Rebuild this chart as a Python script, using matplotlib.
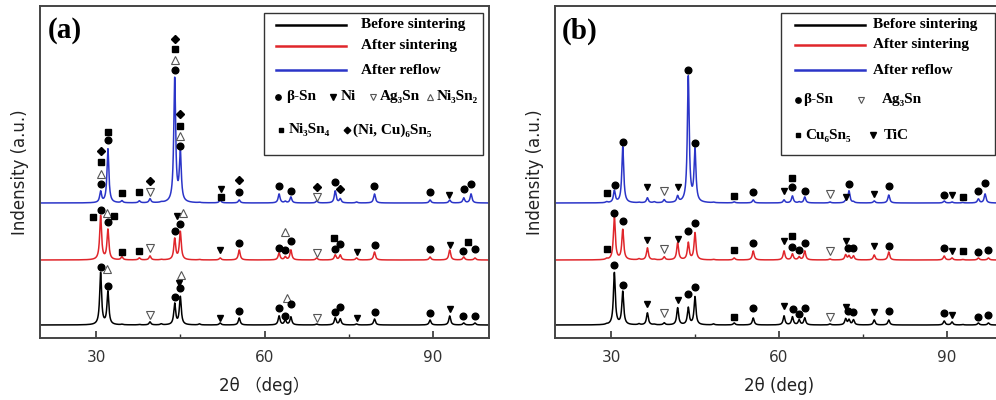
import numpy as np
import matplotlib
matplotlib.use('Agg')
import matplotlib.pyplot as plt

# ---- peak lists (2theta, height) ----
pos_a = [30.8, 32.1, 34.6, 37.7, 39.6, 41.6, 44.0, 45.0, 48.4, 52.1, 55.5, 62.6, 63.7, 64.7,
         69.3, 72.6, 73.5, 76.4, 79.6, 89.5, 93.0, 95.5, 96.8, 97.5]
blue_a = [11, 54, 2, 2, 4, 0.5, 124, 50, 0.5, 3, 3, 9, 1.5, 6,
          2, 12, 4, 1, 9, 3, 3, 5, 9, 0]
red_a = [44, 30, 3, 2, 4, 0.5, 21, 28, 0.5, 2, 10, 7, 3, 10,
         2, 5, 5, 2, 8, 3, 10, 3, 0, 2]
black_a = [52, 33, 0.5, 0.5, 3, 1, 21, 28, 1, 2, 7, 9, 5, 8,
           1, 7, 6, 1, 6, 5, 9, 2, 0, 2]

pos_b = [29.2, 30.6, 32.1, 35.0, 36.5, 37.7, 39.5, 41.9, 43.8, 45.0, 48.3, 52.0, 55.4, 60.9,
         62.4, 63.6, 64.6, 69.1, 71.9, 72.5, 73.3, 77.0, 79.6, 89.5, 90.9, 92.8, 95.6, 96.8, 97.4]
blue_b = [1, 12, 56, 0.5, 5, 1, 3, 6, 126, 52, 0.5, 1, 3, 3,
          7, 1, 6, 1, 2, 12, 1, 2, 8, 2, 1, 0.5, 4, 9, 0]
red_b = [1, 44, 30, 1, 12, 0.5, 3, 17, 17, 27, 0.5, 2, 9, 9,
         6, 3, 9, 1, 5, 4, 4, 5, 8, 4, 2, 0.5, 2, 0, 2]
black_b = [0.5, 52, 33, 1, 12, 0.5, 2, 17, 17, 28, 1, 2, 7, 9,
           8, 5, 7, 1, 6, 5, 5, 5, 5, 4, 3, 0.5, 2, 0, 2]

offsets = {'black': 13, 'red': 78, 'blue': 135}

# ---- phase markers: (2theta, phase, height above the curve baseline) ----
mk_blue_a = [(30.8, 'Sn', 19), (30.8, 'Ni3Sn2', 29), (30.8, 'Ni3Sn4', 41), (30.8, 'NiCu', 52),
             (32.1, 'Sn', 63), (32.1, 'Ni3Sn4', 71), (34.6, 'Ni3Sn4', 10), (37.7, 'Ni3Sn4', 11),
             (39.6, 'Ag3Sn', 11), (39.6, 'NiCu', 22),
             (44.0, 'Sn', 133), (44.0, 'Ni3Sn2', 143), (44.0, 'Ni3Sn4', 154), (44.0, 'NiCu', 164),
             (45.0, 'Sn', 57), (45.0, 'Ni3Sn2', 67), (45.0, 'Ni3Sn4', 77), (45.0, 'NiCu', 89),
             (52.3, 'Ni3Sn4', 6), (52.3, 'Ni', 14), (55.5, 'Sn', 11), (55.5, 'NiCu', 23),
             (62.6, 'Sn', 17), (64.7, 'Sn', 12), (69.3, 'Ag3Sn', 6), (69.3, 'NiCu', 16),
             (72.6, 'Sn', 21), (73.5, 'NiCu', 14), (79.5, 'Sn', 17), (89.5, 'Sn', 11),
             (92.9, 'Ni', 8), (95.6, 'Sn', 14), (96.8, 'Sn', 19)]
mk_red_a = [(29.5, 'Ni3Sn4', 43), (30.8, 'Sn', 50), (32.0, 'Ni3Sn2', 47), (33.1, 'Ni3Sn4', 44),
            (32.2, 'Sn', 38), (34.6, 'Ni3Sn4', 8), (37.7, 'Ni3Sn4', 9), (39.6, 'Ag3Sn', 12),
            (44.0, 'Sn', 29), (45.0, 'Sn', 36), (44.4, 'Ni', 44), (45.4, 'Ni3Sn2', 47),
            (52.0, 'Ni', 10), (55.5, 'Sn', 17), (62.6, 'Sn', 12), (63.7, 'Sn', 10),
            (63.7, 'Ni3Sn2', 28), (64.7, 'Sn', 19), (69.4, 'Ag3Sn', 7), (72.6, 'Sn', 11),
            (72.3, 'Ni3Sn4', 22), (73.5, 'Sn', 16), (76.4, 'Ni', 8), (79.6, 'Sn', 15),
            (89.5, 'Sn', 11), (93.0, 'Ni', 15), (95.4, 'Sn', 9), (96.3, 'Ni3Sn4', 18),
            (97.5, 'Sn', 11)]
mk_black_a = [(30.8, 'Sn', 58), (32.0, 'Ni3Sn2', 56), (32.2, 'Sn', 39), (39.6, 'Ag3Sn', 10),
              (44.0, 'Sn', 28), (45.0, 'Sn', 37), (44.7, 'Ni', 42), (45.1, 'Ni3Sn2', 50),
              (52.0, 'Ni', 7), (55.5, 'Sn', 14), (62.6, 'Sn', 17), (63.7, 'Sn', 9),
              (64.0, 'Ni3Sn2', 27), (64.7, 'Sn', 21), (69.4, 'Ag3Sn', 7), (72.6, 'Sn', 13),
              (73.5, 'Sn', 18), (76.4, 'Ni', 7), (79.6, 'Sn', 13), (89.5, 'Sn', 12),
              (93.0, 'Ni', 16), (95.4, 'Sn', 9), (97.5, 'Sn', 9)]

mk_blue_b = [(29.3, 'Cu6Sn5', 10), (30.7, 'Sn', 18), (32.1, 'Sn', 61), (36.5, 'TiC', 16),
             (39.5, 'Ag3Sn', 12), (41.9, 'TiC', 16), (43.8, 'Sn', 133), (45.0, 'Sn', 60),
             (52.0, 'Cu6Sn5', 7), (55.4, 'Sn', 11), (60.9, 'TiC', 12), (62.4, 'Sn', 16),
             (62.4, 'Cu6Sn5', 25), (64.6, 'Sn', 12), (69.1, 'Ag3Sn', 9), (71.9, 'TiC', 6),
             (72.5, 'Sn', 19), (77.0, 'TiC', 9), (79.6, 'Sn', 17), (89.5, 'Sn', 8),
             (90.9, 'TiC', 8), (92.8, 'Cu6Sn5', 6), (95.6, 'Sn', 12), (96.8, 'Sn', 20)]
mk_red_b = [(29.2, 'Cu6Sn5', 11), (30.6, 'Sn', 47), (32.1, 'Sn', 39), (36.5, 'TiC', 20),
            (39.5, 'Ag3Sn', 11), (41.9, 'TiC', 21), (43.8, 'Sn', 29), (45.0, 'Sn', 37),
            (52.0, 'Cu6Sn5', 10), (55.4, 'Sn', 17), (60.9, 'TiC', 19), (62.4, 'Sn', 13),
            (62.4, 'Cu6Sn5', 24), (63.5, 'Sn', 10), (64.6, 'Sn', 17), (69.1, 'Ag3Sn', 9),
            (71.9, 'TiC', 19), (72.4, 'Sn', 12), (73.2, 'Sn', 12), (77.0, 'TiC', 14),
            (79.6, 'Sn', 14), (89.5, 'Sn', 12), (90.9, 'TiC', 9), (92.8, 'Cu6Sn5', 9),
            (95.6, 'Sn', 8), (97.3, 'Sn', 10)]
mk_black_b = [(30.6, 'Sn', 60), (32.1, 'Sn', 40), (36.5, 'TiC', 21), (39.5, 'Ag3Sn', 12),
              (41.9, 'TiC', 25), (43.8, 'Sn', 31), (45.0, 'Sn', 38), (52.0, 'Cu6Sn5', 8),
              (55.4, 'Sn', 17), (60.9, 'TiC', 19), (62.5, 'Sn', 16), (63.6, 'Sn', 11),
              (64.6, 'Sn', 17), (69.1, 'Ag3Sn', 8), (71.9, 'TiC', 18), (72.4, 'Sn', 14),
              (73.3, 'Sn', 13), (77.0, 'TiC', 13), (79.6, 'Sn', 14), (89.5, 'Sn', 12),
              (90.9, 'TiC', 10), (95.6, 'Sn', 8), (97.3, 'Sn', 10)]

series_names = ['Before sintering', 'After sintering', 'After reflow']
line_colors = {'black': 'black', 'red': '#e0262b', 'blue': '#2b35c8'}

# marker styles per phase
styles = {
    'Sn': dict(marker='o', ms=4.8, mfc='black', mec='black'),
    'Ni': dict(marker='v', ms=4.8, mfc='black', mec='black'),
    'TiC': dict(marker='v', ms=4.8, mfc='black', mec='black'),
    'Ag3Sn': dict(marker='v', ms=6, mfc='white', mec='#555555', mew=0.8),
    'Ni3Sn2': dict(marker='^', ms=6, mfc='white', mec='#555555', mew=0.8),
    'Ni3Sn4': dict(marker='s', ms=4.3, mfc='black', mec='black'),
    'Cu6Sn5': dict(marker='s', ms=4.3, mfc='black', mec='black'),
    'NiCu': dict(marker='D', ms=4.2, mfc='black', mec='black'),
}

SERIF = ['Liberation Serif', 'DejaVu Serif']
plt.rcParams['font.family'] = ['DejaVu Sans']

x = np.linspace(20, 100, 4000)
W = 0.2


def pattern(pos, heights):
    y = np.zeros_like(x)
    for c, h in zip(pos, heights):
        y += h / (1 + ((x - c) / W) ** 2)
    return y


fig = plt.figure(figsize=(9.96, 4.0), dpi=100)
FW, FH = 996, 400


def make_axes(left_px, width_px):
    return fig.add_axes([left_px / FW, (FH - 338) / FH, width_px / FW, 332 / FH])


def style_axes(ax):
    ax.set_xlim(20, 100)
    ax.set_ylim(0, 332)
    ax.set_yticks([])
    ax.set_xticks([30, 60, 90])
    ax.set_xticks([45, 75], minor=True)
    ax.tick_params(axis='x', which='major', direction='in', length=5, width=1.2,
                   colors='#333333', labelsize=11, pad=9)
    ax.tick_params(axis='x', which='minor', direction='in', length=3, width=1.0, colors='#333333')
    ax.tick_params(top=False)
    for s in ax.spines.values():
        s.set_color('#444444')
        s.set_linewidth(1.4)
    ax.set_ylabel('Indensity (a.u.)', fontsize=12, color='#222222', labelpad=8)


def draw_curves(ax, pos, curves, markers):
    for key, h, mks in zip(['black', 'red', 'blue'], curves, markers):
        off = offsets[key]
        ax.plot(x, pattern(pos, h) + off, color=line_colors[key], lw=1.1)
        for tt, ph, hh in mks:
            ax.plot(tt, hh + off, linestyle='none', **styles[ph])


def draw_legend(ax, box, line_x, text_x, rows_y):
    x0, x1, y0, y1 = box
    ax.add_patch(plt.Rectangle((x0, y0), x1 - x0, y1 - y0, transform=ax.transAxes,
                               fill=True, fc='white', ec='#333333', lw=1.0, zorder=5))
    for key, name, yy in zip(['black', 'red', 'blue'], series_names, rows_y):
        ax.plot(line_x, [yy, yy], color=line_colors[key], lw=1.8,
                transform=ax.transAxes, zorder=6)
        ax.text(text_x, yy, name, transform=ax.transAxes, family=SERIF, fontweight='bold',
                fontsize=11, va='center', ha='left', zorder=6)


def legend_item(ax, xm, xt, yy, phase, label, ms_scale=0.8):
    st = dict(styles[phase])
    st['ms'] = st['ms'] * ms_scale
    ax.plot(xm, yy, transform=ax.transAxes, linestyle='none', zorder=6, **st)
    ax.text(xt, yy, label, transform=ax.transAxes, family=SERIF, fontweight='bold',
            fontsize=11, va='center', ha='left', zorder=6)


# ---- panel (a) ----
ax1 = make_axes(40, 449)
style_axes(ax1)
draw_curves(ax1, pos_a, [black_a, red_a, blue_a], [mk_black_a, mk_red_a, mk_blue_a])
ax1.set_xlabel('2θ （deg）', fontsize=12, color='#222222', labelpad=8,
               family=['DejaVu Sans', 'Noto Sans CJK SC'])
draw_legend(ax1, (0.499, 0.987, 0.551, 0.979), [0.526, 0.681], 0.715, [0.943, 0.880, 0.807])
legend_item(ax1, 0.530, 0.548, 0.726, 'Sn', 'β-Sn')
legend_item(ax1, 0.653, 0.670, 0.726, 'Ni', 'Ni')
legend_item(ax1, 0.742, 0.757, 0.726, 'Ag3Sn', 'Ag₃Sn')
legend_item(ax1, 0.869, 0.884, 0.726, 'Ni3Sn2', 'Ni₃Sn₂')
legend_item(ax1, 0.537, 0.553, 0.627, 'Ni3Sn4', 'Ni₃Sn₄')
legend_item(ax1, 0.683, 0.697, 0.627, 'NiCu', '(Ni, Cu)₆Sn₅')
ax1.text(0.018, 0.925, '(a)', transform=ax1.transAxes, family=SERIF, fontweight='bold',
         fontsize=21, va='center', ha='left')

# ---- panel (b) ----
ax2 = make_axes(555, 448)
style_axes(ax2)
draw_curves(ax2, pos_b, [black_b, red_b, blue_b], [mk_black_b, mk_red_b, mk_blue_b])
ax2.set_xlabel('2θ (deg)', fontsize=12, color='#222222', labelpad=8)
draw_legend(ax2, (0.504, 0.982, 0.551, 0.979), [0.536, 0.692], 0.710, [0.943, 0.883, 0.807])
legend_item(ax2, 0.542, 0.554, 0.717, 'Sn', 'β-Sn')
legend_item(ax2, 0.683, 0.730, 0.717, 'Ag3Sn', 'Ag₃Sn')
legend_item(ax2, 0.542, 0.558, 0.611, 'Cu6Sn5', 'Cu₆Sn₅')
legend_item(ax2, 0.709, 0.734, 0.611, 'TiC', 'TiC')
ax2.text(0.015, 0.925, '(b)', transform=ax2.transAxes, family=SERIF, fontweight='bold',
         fontsize=21, va='center', ha='left')

fig.savefig('out.png', dpi=100)
